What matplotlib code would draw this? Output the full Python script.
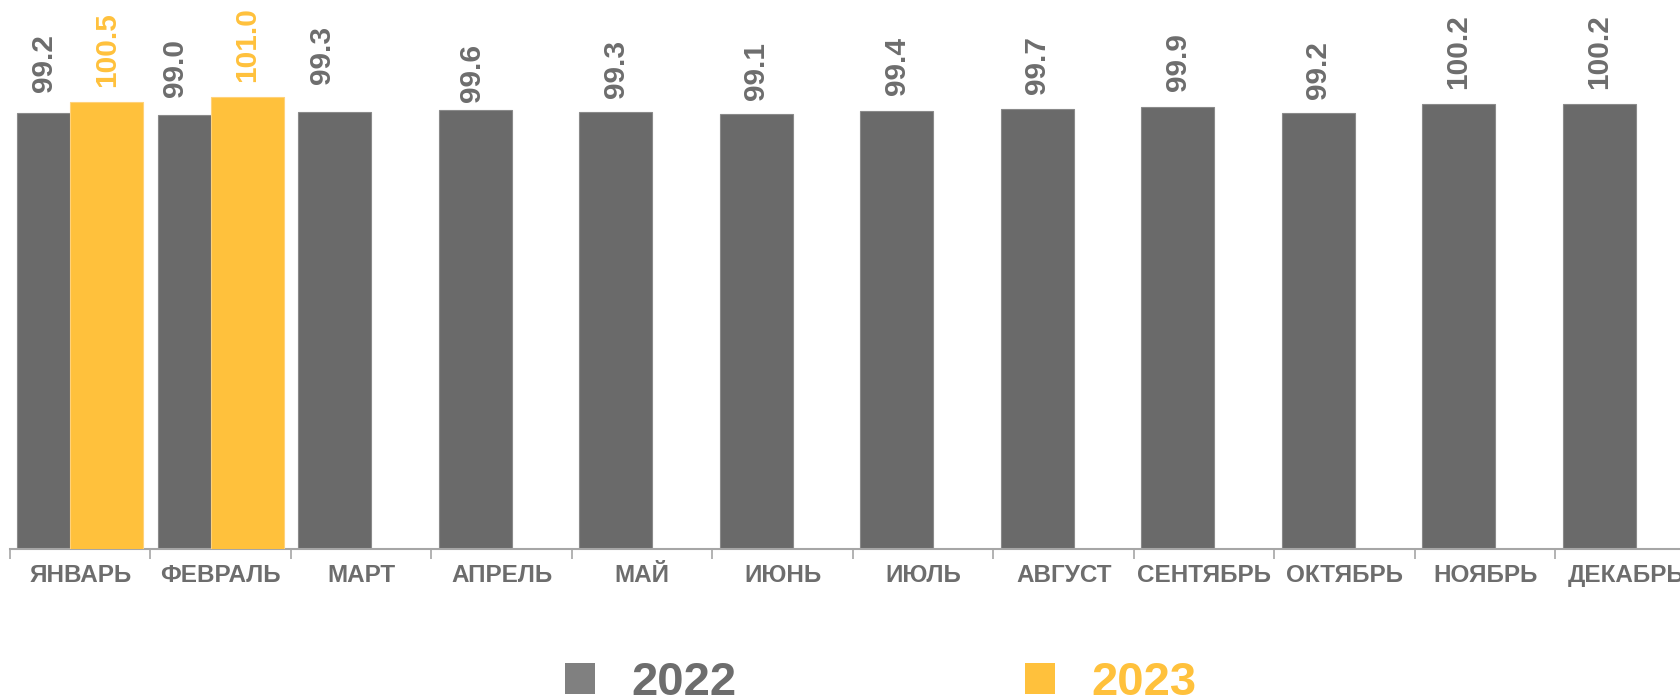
import matplotlib.pyplot as plt
import numpy as np
from matplotlib.patches import Patch

months = ['ЯНВАРЬ', 'ФЕВРАЛЬ', 'МАРТ', 'АПРЕЛЬ', 'МАЙ', 'ИЮНЬ',
          'ИЮЛЬ', 'АВГУСТ', 'СЕНТЯБРЬ', 'ОКТЯБРЬ', 'НОЯБРЬ', 'ДЕКАБРЬ']
vals_2022 = [99.2, 99.0, 99.3, 99.6, 99.3, 99.1, 99.4, 99.7, 99.9, 99.2, 100.2, 100.2]
vals_2023 = [100.5, 101.0]
series_names = ['2022', '2023']

gray = '#6a6a6a'
yellow = '#ffc13c'
text_gray = '#6d6d6d'

plt.rcParams['font.family'] = ['Liberation Sans', 'DejaVu Sans']
plt.rcParams['font.weight'] = 'bold'

W, H = 1681, 700
fig = plt.figure(figsize=(W / 100, H / 100), dpi=100)
# axes spills past the right edge like the original
ax = fig.add_axes([10 / W, 151 / H, 1686 / W, 531.6 / H])

x = np.arange(len(months))
bw = 0.52
off = 0.19
ax.bar(x - off, vals_2022, bw, color=gray, edgecolor='#8a8a8a', linewidth=0.8, zorder=2)
ax.bar(x[:len(vals_2023)] + off, vals_2023, bw, color=yellow, edgecolor='#ffd27a',
       linewidth=0.8, zorder=3)

# small nudges of the 2022 labels as in the source (pixels)
dx = [-10, -19, -13, -3, 0, 0, 0, 0, 0, 0, 0, 0]
dy = [23, 20, 30, 10, 16, 16, 18, 17, 18, 16, 17, 17]
for i, v in enumerate(vals_2022):
    ax.annotate(f'{v:.1f}', (x[i] - off, v), xytext=(dx[i] * 0.72, (dy[i] - 2) * 0.72),
                textcoords='offset points', rotation=90, ha='center', va='bottom',
                fontsize=21.5, fontweight='bold', color=text_gray)
for i, v in enumerate(vals_2023):
    ax.annotate(f'{v:.1f}', (x[i] + off, v), xytext=(0, 15 * 0.72),
                textcoords='offset points', rotation=90, ha='center', va='bottom',
                fontsize=21.5, fontweight='bold', color=yellow)

ax.set_ylim(50, 110)
ax.set_xlim(-0.5, len(months) - 0.5)
ax.set_yticks([])
ax.set_xticks(x)
ax.set_xticklabels(months, fontsize=17.5, fontweight='bold', color=text_gray)
ax.set_xticks(np.arange(len(months) + 1) - 0.5, minor=True)
ax.tick_params(axis='x', which='major', length=0, pad=11)
ax.tick_params(axis='x', which='minor', length=7, width=1.2, color='#a6a6a6')
for s in ['top', 'right', 'left']:
    ax.spines[s].set_visible(False)
ax.spines['bottom'].set_color('#a6a6a6')
ax.spines['bottom'].set_linewidth(1.5)

handles = [Patch(facecolor='#808080'), Patch(facecolor=yellow)]
leg = fig.legend(handles, series_names, loc='center left',
                 bbox_to_anchor=(565 / W, 17 / H), ncol=2, frameon=False,
                 prop={'family': 'Liberation Sans', 'weight': 'bold', 'size': 34},
                 handlelength=0.63, handleheight=0.63, handletextpad=0.78,
                 columnspacing=6.1, borderpad=0, borderaxespad=0)
for t, c in zip(leg.get_texts(), [text_gray, yellow]):
    t.set_color(c)

fig.savefig('out.png', dpi=100)
